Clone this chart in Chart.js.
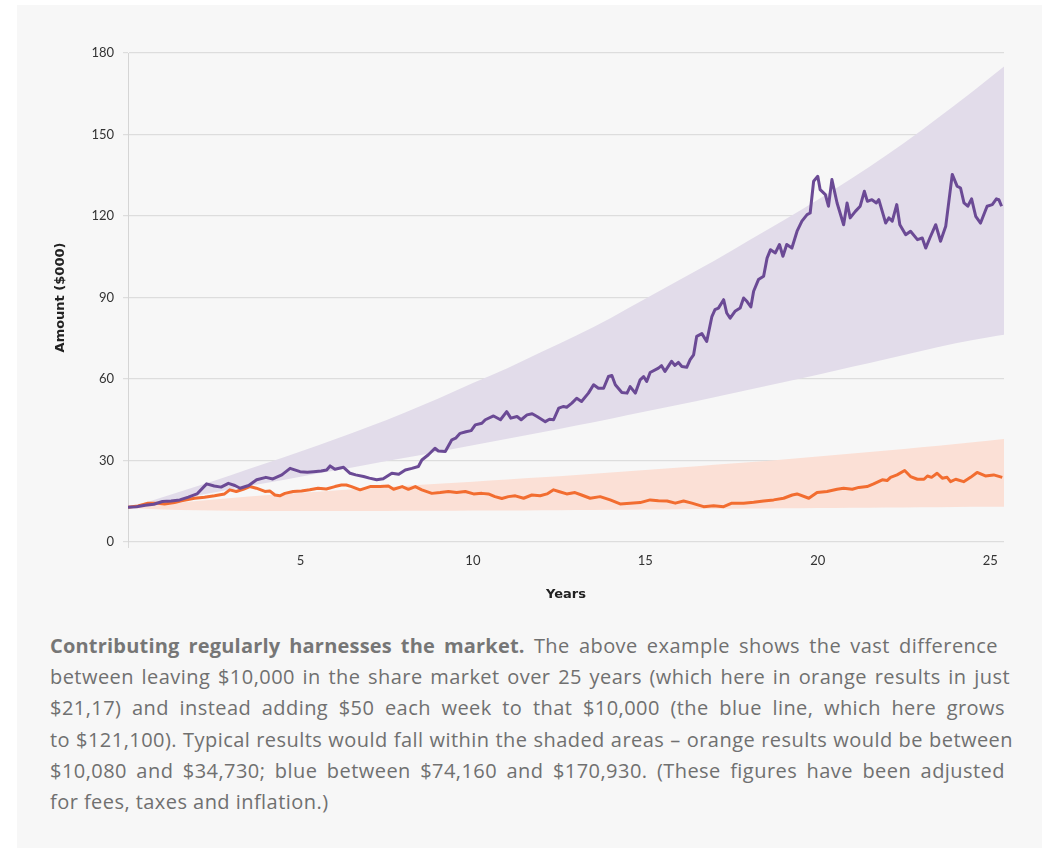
<!DOCTYPE html>
<html>
<head>
<meta charset="utf-8">
<script src="https://cdn.jsdelivr.net/npm/chart.js@4"></script>
<style>
  html, body { margin: 0; padding: 0; background: #ffffff; }
  body { width: 1042px; height: 848px; position: relative; overflow: hidden; }
  #card { position: absolute; left: 17px; top: 5px; width: 1025px; height: 843px; background: #f7f7f7; }
  #chartBox { position: absolute; left: 0; top: 0; width: 1025px; height: 610px; }
  #caption {
    position: absolute; left: 33px; top: 625px;
    font-family: "Open Sans", sans-serif; font-size: 20px; line-height: 31.2px; letter-spacing: 0.45px;
    color: #707070; white-space: nowrap;
  }
  #caption .ln { display: block; text-align-last: justify; }
  #caption .last { text-align-last: left; }
  #caption b { color: #767676; font-weight: 700; letter-spacing: 0.2px; }
</style>
</head>
<body>
<div id="card">
  <div id="chartBox"><canvas id="growthChart" width="1025" height="610"></canvas></div>
  <div id="caption">
    <span class="ln" style="width:948px"><b>Contributing regularly harnesses the market.</b> The above example shows the vast difference</span>
    <span class="ln" style="width:960px">between leaving $10,000 in the share market over 25 years (which here in orange results in just</span>
    <span class="ln" style="width:955px">$21,17) and instead adding $50 each week to that $10,000 (the blue line, which here grows</span>
    <span class="ln" style="width:963px">to $121,100). Typical results would fall within the shaded areas – orange results would be between</span>
    <span class="ln" style="width:955px">$10,080 and $34,730; blue between $74,160 and $170,930. (These figures have been adjusted</span>
    <span class="ln last">for fees, taxes and inflation.)</span>
  </div>
</div>
<script>
document.addEventListener('DOMContentLoaded', function () {

// weekly $50 contributions (purple line), years / value in $000
const purpleYears = [0, 0.25, 0.5, 0.75, 1, 1.25, 1.5, 1.75, 2, 2.28, 2.5, 2.7, 2.91, 3.1, 3.25, 3.5, 3.73, 4, 4.2, 4.46,
  4.7, 4.99, 5.2, 5.38, 5.6, 5.76, 5.86, 6, 6.25, 6.44, 6.6, 6.83, 7, 7.21, 7.4, 7.65, 7.85, 8.04, 8.23, 8.42,
  8.52, 8.71, 8.9, 9, 9.2, 9.39, 9.5, 9.63, 9.8, 9.95, 10.07, 10.26, 10.36, 10.6, 10.8, 10.98, 11.1, 11.28, 11.4, 11.57,
  11.72, 11.86, 12.1, 12.22, 12.34, 12.49, 12.63, 12.72, 12.87, 13.01, 13.15, 13.35, 13.5, 13.64, 13.79, 13.93, 14.03, 14.13, 14.32, 14.47,
  14.56, 14.71, 14.85, 14.95, 15.04, 15.14, 15.38, 15.47, 15.57, 15.76, 15.86, 15.96, 16.06, 16.2, 16.3, 16.4, 16.49, 16.64, 16.78, 16.93,
  17.02, 17.12, 17.27, 17.36, 17.46, 17.6, 17.75, 17.85, 17.95, 18.06, 18.14, 18.28, 18.43, 18.53, 18.63, 18.77, 18.89, 18.99, 19.1, 19.25,
  19.4, 19.54, 19.69, 19.78, 19.88, 20, 20.07, 20.22, 20.31, 20.41, 20.56, 20.75, 20.85, 20.94, 21.09, 21.23, 21.35, 21.44, 21.57, 21.7,
  21.77, 21.97, 22.06, 22.16, 22.29, 22.38, 22.55, 22.69, 22.89, 23.03, 23.13, 23.25, 23.42, 23.56, 23.71, 23.9, 24.04, 24.14, 24.24, 24.35,
  24.46, 24.58, 24.72, 24.91, 25.06, 25.18, 25.25, 25.33];
const purpleValues = [12.8, 13.0, 13.5, 13.9, 14.9, 15.1, 15.5, 16.5, 17.7, 21.4, 20.6, 20.2, 21.6, 20.8, 19.8, 20.8, 22.9, 23.8, 23.2, 24.7,
  27.1, 25.9, 25.7, 25.9, 26.1, 26.5, 28.0, 26.8, 27.5, 25.3, 24.7, 24.1, 23.5, 22.9, 23.3, 25.3, 24.9, 26.5, 27.1, 27.8,
  30.2, 32.1, 34.5, 33.5, 33.3, 37.6, 38.2, 40.0, 40.6, 41.0, 43.1, 43.7, 45.0, 46.4, 45.0, 48.0, 45.6, 46.2, 45.0, 46.8,
  47.2, 46.2, 44.3, 45.2, 45.0, 49.3, 49.9, 49.6, 51.1, 52.9, 51.7, 54.8, 57.9, 56.6, 56.6, 60.9, 61.3, 57.9, 55.0, 54.8,
  57.2, 54.8, 59.7, 60.9, 59.1, 62.4, 64.0, 64.9, 62.8, 66.5, 65.0, 66.1, 64.6, 64.3, 67.1, 68.9, 75.7, 76.7, 73.8, 83.0,
  85.5, 86.1, 89.2, 84.3, 82.4, 84.9, 86.1, 89.8, 88.5, 86.5, 92.3, 96.6, 97.8, 104.5, 107.6, 106.4, 109.5, 105.2, 109.5, 108.2,
  114.4, 118.1, 120.5, 121.1, 132.8, 134.6, 129.7, 127.9, 123.6, 133.4, 124.8, 116.8, 124.8, 119.3, 121.7, 123.6, 129.1, 125.4, 126.0, 124.8,
  126.0, 117.4, 119.3, 118.1, 124.2, 116.8, 113.1, 114.4, 111.3, 111.9, 108.2, 111.9, 116.8, 110.7, 116.2, 135.3, 131.0, 130.3, 124.8, 123.6,
  126.3, 119.9, 117.4, 123.6, 124.2, 126.3, 126.0, 123.6];

// lump sum left alone (orange line)
const orangeYears = [0, 0.29, 0.58, 0.87, 1.06, 1.35, 1.55, 1.93, 2.22, 2.51, 2.8, 2.95, 3.14, 3.34, 3.53, 3.72, 3.97, 4.11, 4.26, 4.4,
  4.55, 4.79, 5.03, 5.27, 5.51, 5.75, 6, 6.19, 6.33, 6.48, 6.73, 7.02, 7.31, 7.55, 7.7, 7.95, 8.13, 8.33, 8.52, 8.81,
  9.05, 9.29, 9.53, 9.78, 10.02, 10.26, 10.45, 10.64, 10.84, 11.03, 11.23, 11.47, 11.71, 11.95, 12.15, 12.34, 12.49, 12.72, 12.96, 13.15,
  13.4, 13.69, 13.98, 14.27, 14.56, 14.85, 15.14, 15.38, 15.63, 15.87, 16.11, 16.35, 16.69, 16.98, 17.27, 17.51, 17.85, 18.14, 18.43, 18.72,
  19.01, 19.26, 19.4, 19.74, 19.98, 20.27, 20.56, 20.75, 21, 21.19, 21.43, 21.62, 21.87, 22.01, 22.11, 22.3, 22.52, 22.69, 22.89, 23.08,
  23.18, 23.3, 23.46, 23.61, 23.75, 23.85, 24, 24.23, 24.43, 24.62, 24.86, 25.1, 25.35];
const orangeValues = [12.8, 13.3, 14.3, 14.3, 14.0, 14.5, 15.2, 16.1, 16.5, 17.0, 17.7, 19.2, 18.6, 19.4, 20.4, 19.8, 18.6, 18.8, 17.3, 17.0,
  17.9, 18.6, 18.8, 19.2, 19.8, 19.5, 20.4, 21.0, 21.0, 20.4, 19.2, 20.4, 20.4, 20.6, 19.4, 20.4, 19.4, 20.4, 19.2, 17.9,
  18.2, 18.6, 18.2, 18.6, 17.7, 17.9, 17.7, 16.7, 16.0, 16.7, 17.0, 16.1, 17.3, 17.0, 17.7, 19.2, 18.6, 17.7, 18.2, 17.3,
  16.1, 16.7, 15.5, 14.0, 14.3, 14.5, 15.5, 15.2, 15.1, 14.3, 15.1, 14.3, 13.0, 13.3, 13.0, 14.3, 14.3, 14.6, 15.1, 15.5,
  16.1, 17.3, 17.7, 16.1, 18.2, 18.6, 19.4, 19.8, 19.4, 20.1, 20.4, 21.4, 22.9, 22.6, 23.8, 24.7, 26.3, 24.1, 23.1, 23.1,
  24.3, 23.8, 25.3, 23.5, 23.8, 22.2, 23.1, 22.2, 23.8, 25.6, 24.3, 24.7, 23.8];

// shaded ranges of typical outcomes
const bandYears = [0, 1, 2, 3, 4, 5, 6, 7, 8, 9, 10, 11, 12, 13, 14, 15, 16, 17, 18, 19, 20, 21, 22, 23, 24, 25, 25.4];
const purpleHigh = [12.5, 16.5, 20.5, 24.7, 29, 33.3, 37.8, 42.5, 47.5, 52.8, 58.5, 64, 70, 76, 82.5, 89.5, 96.5, 103.5, 111, 118.3, 126, 134, 142.5, 151.5, 161, 171, 175];
const purpleLow = [12.5, 14.8, 17.1, 19.4, 21.7, 24, 26.3, 28.6, 30.9, 33.2, 35.6, 38, 40.4, 42.9, 45.4, 48, 50.6, 53.3, 56, 58.8, 61.6, 64.5, 67.4, 70.3, 73.2, 75.5, 76.3];
const orangeHigh = [12.5, 13.9, 15.1, 16.2, 17.2, 18.1, 19, 19.8, 20.6, 21.4, 22.2, 23, 23.8, 24.7, 25.6, 26.5, 27.4, 28.4, 29.4, 30.4, 31.5, 32.6, 33.7, 34.9, 36.1, 37.4, 37.9];
const orangeLow = [12.5, 12.0, 11.7, 11.5, 11.4, 11.4, 11.4, 11.4, 11.5, 11.5, 11.6, 11.6, 11.7, 11.8, 11.9, 12.0, 12.1, 12.2, 12.3, 12.4, 12.5, 12.6, 12.7, 12.8, 12.9, 13.0, 13.0];

const yTicks = [0, 30, 60, 90, 120, 150, 180];

function pts(xs, ys) {
    return xs.map((x, i) => ({ x: x, y: ys[i] }));
}

const purple = '#6b4a95';
const orange = '#f26d30';
const tickFont = 'Lato, "Open Sans", sans-serif';
const titleFont = '"DejaVu Sans", sans-serif';

// smooth edges for the shaded ranges
const band = { borderWidth: 0, pointRadius: 0, tension: 0.4, cubicInterpolationMode: 'monotone' };

const ctx = document.getElementById('growthChart').getContext('2d');
new Chart(ctx, {
    type: 'line',
    data: {
        datasets: [
            { data: pts(purpleYears, purpleValues), borderColor: purple, borderWidth: 3, pointRadius: 0, tension: 0, fill: false, borderJoinStyle: 'round' },
            { data: pts(orangeYears, orangeValues), borderColor: orange, borderWidth: 3, pointRadius: 0, tension: 0, fill: false, borderJoinStyle: 'round' },
            Object.assign({ data: pts(bandYears, purpleLow), fill: false }, band),
            Object.assign({ data: pts(bandYears, purpleHigh), fill: '-1', backgroundColor: '#e2dcea' }, band),
            Object.assign({ data: pts(bandYears, orangeLow), fill: false }, band),
            Object.assign({ data: pts(bandYears, orangeHigh), fill: '-1', backgroundColor: '#fbe0d6' }, band),
        ],
    },
    options: {
        responsive: false,
        devicePixelRatio: 1,
        animation: false,
        layout: { padding: { left: 36, right: 38, top: 48, bottom: 8 } },
        plugins: { legend: { display: false }, tooltip: { enabled: false } },
        scales: {
            x: {
                type: 'linear',
                min: 0,
                max: 25.4,
                afterFit: s => { s.height = 65; },
                ticks: {
                    stepSize: 5,
                    includeBounds: false,
                    padding: 5,
                    color: '#333333',
                    font: { family: tickFont, size: 13 },
                    maxRotation: 0,
                    callback: v => (v === 0 ? '' : v),
                },
                grid: {
                    drawOnChartArea: false,
                    tickLength: 6,
                    color: c => (c.tick && c.tick.value === 0 ? '#d9d9d9' : 'rgba(0,0,0,0)'),
                },
                border: { display: false },
                title: {
                    display: true,
                    text: 'Years',
                    color: '#222222',
                    font: { family: titleFont, size: 13, weight: 'bold' },
                    padding: { top: 0, bottom: 5 },
                },
            },
            y: {
                min: 0,
                max: 180,
                afterFit: s => { s.width = 75; },
                afterBuildTicks: s => { s.ticks = yTicks.map(v => ({ value: v })); },
                ticks: {
                    padding: 9,
                    color: '#333333',
                    font: { family: tickFont, size: 13 },
                },
                grid: { color: '#dddddd', lineWidth: 1.2, tickLength: 5 },
                border: { display: true, color: '#d5d5d5' },
                title: {
                    display: true,
                    text: 'Amount ($000)',
                    color: '#222222',
                    font: { family: titleFont, size: 13, weight: 'bold' },
                    padding: 0,
                },
            },
        },
    },
});

});
</script>
</body>
</html>
